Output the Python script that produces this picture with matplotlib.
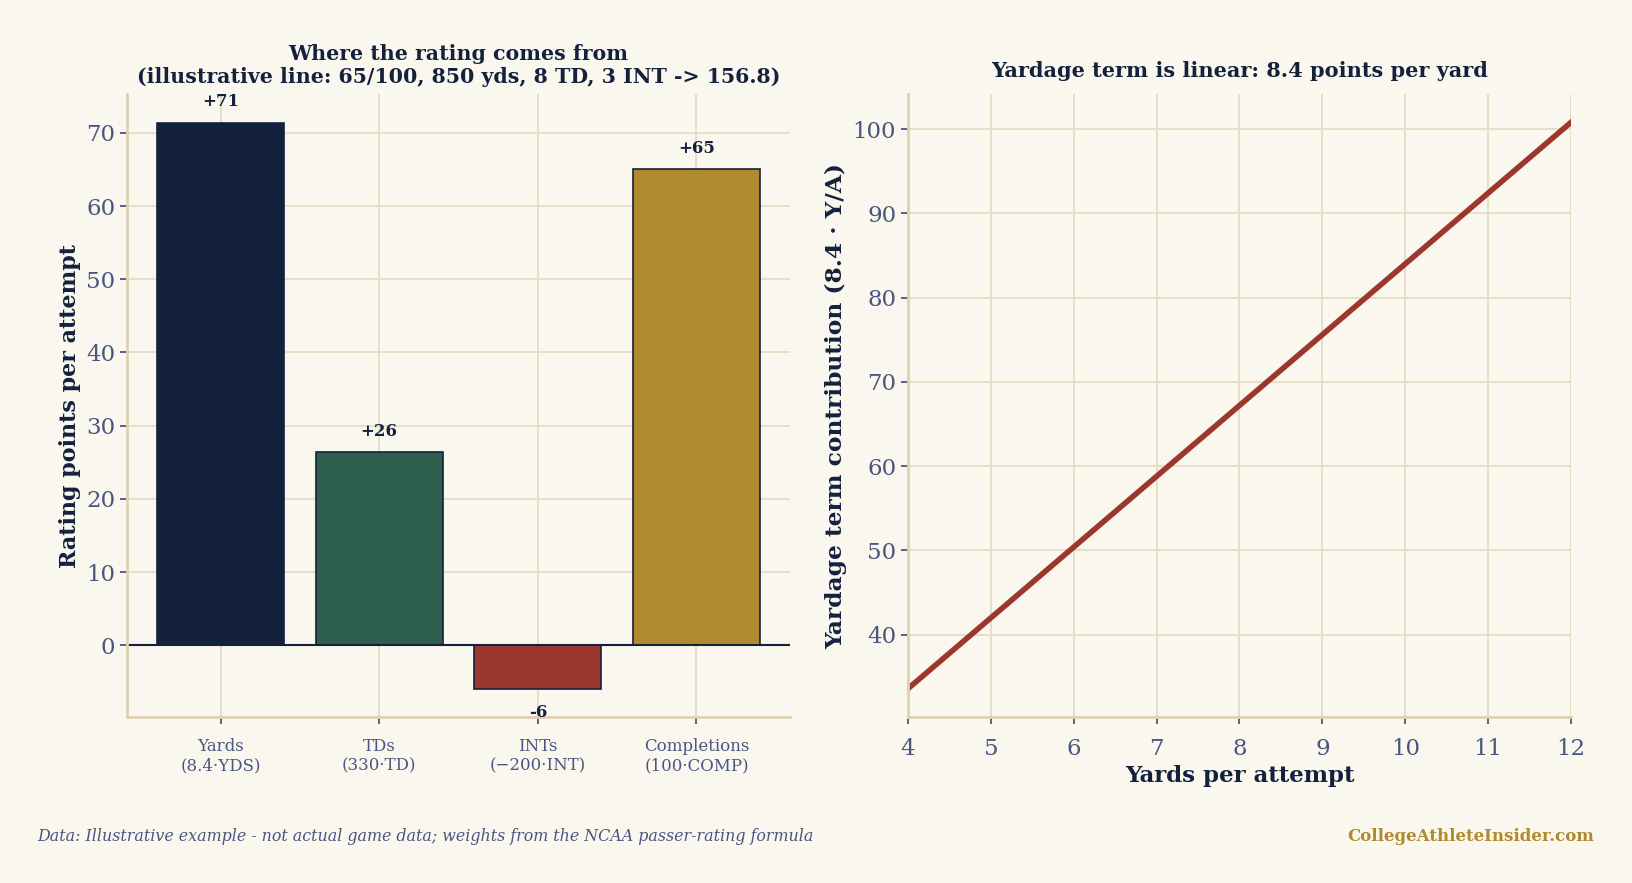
import matplotlib
matplotlib.use("Agg")
import matplotlib.pyplot as plt

# bar panel data
categories = ["Yards\n(8.4·YDS)", "TDs\n(330·TD)", "INTs\n(\u2212200·INT)", "Completions\n(100·COMP)"]
contributions = [71.4, 26.4, -6.0, 65.0]
bar_labels = ["+71", "+26", "-6", "+65"]

# line panel data
ypa = [4, 12]
yardage_term = [33.6, 100.8]
ypa_ticks = [4, 5, 6, 7, 8, 9, 10, 11, 12]

BG = "#faf7ef"
NAVY = "#14213d"
SLATE = "#4a5680"
GRID = "#e6dcc4"
SPINE = "#ddd0b3"
bar_colors = ["#14213d", "#2e5e4e", "#9b372c", "#b08a2e"]

plt.rcParams["font.family"] = ["DejaVu Serif"]

fig = plt.figure(figsize=(16.33, 8.83), dpi=100, facecolor=BG)
ax1 = fig.add_axes([0.0778, 0.188, 0.406, 0.7055])
ax2 = fig.add_axes([0.556, 0.188, 0.406, 0.7055])

def style(ax):
    ax.set_facecolor(BG)
    ax.grid(True, color=GRID, linewidth=1.3)
    ax.set_axisbelow(True)
    for s in ["top", "right"]:
        ax.spines[s].set_visible(False)
    for s in ["left", "bottom"]:
        ax.spines[s].set_color(SPINE)
        ax.spines[s].set_linewidth(2)
    ax.tick_params(colors=SLATE, labelsize=16.5, length=5, width=1.3)

# left: where the rating comes from
style(ax1)
x = range(len(categories))
bars = ax1.bar(x, contributions, width=0.8, color=bar_colors, edgecolor=NAVY, linewidth=1.2)
ax1.axhline(0, color=NAVY, linewidth=1.5)
for b, v, lab in zip(bars, contributions, bar_labels):
    xc = b.get_x() + b.get_width() / 2
    if v >= 0:
        ax1.annotate(lab, (xc, v), xytext=(0, 9), textcoords="offset points",
                     ha="center", va="bottom", fontsize=12, fontweight="bold", color=NAVY)
    else:
        ax1.annotate(lab, (xc, v), xytext=(0, -11), textcoords="offset points",
                     ha="center", va="top", fontsize=12, fontweight="bold", color=NAVY)
ax1.set_xticks(list(x))
ax1.set_xticklabels(categories, fontsize=12)
ax1.tick_params(axis="x", pad=10)
ax1.set_yticks(range(0, 71, 10))
ax1.set_ylim(-9.8, 75.3)
ax1.set_ylabel("Rating points per attempt", fontsize=16, fontweight="bold", color=NAVY)
ax1.set_title("Where the rating comes from\n(illustrative line: 65/100, 850 yds, 8 TD, 3 INT -> 156.8)",
              fontsize=14.8, fontweight="bold", color=NAVY, pad=8)

# right: yardage term
style(ax2)
ax2.plot(ypa, yardage_term, color="#9b372c", linewidth=4)
ax2.set_xlim(4, 12)
ax2.set_xticks(ypa_ticks)
ax2.tick_params(axis="x", pad=10)
ax2.margins(y=0.05)
ax2.set_xlabel("Yards per attempt", fontsize=16.5, fontweight="bold", color=NAVY)
ax2.set_ylabel("Yardage term contribution (8.4 · Y/A)", fontsize=16.8, fontweight="bold", color=NAVY)
ax2.set_title("Yardage term is linear: 8.4 points per yard", fontsize=15, fontweight="bold", color=NAVY, pad=12)

fig.text(0.023, 0.053, "Data: Illustrative example - not actual game data; weights from the NCAA passer-rating formula",
         fontsize=11.4, style="italic", color=SLATE, va="center")
fig.text(0.976, 0.053, "CollegeAthleteInsider.com", fontsize=12, fontweight="bold",
         color="#b08a2e", ha="right", va="center")

fig.savefig("out.png", dpi=100, facecolor=BG)
